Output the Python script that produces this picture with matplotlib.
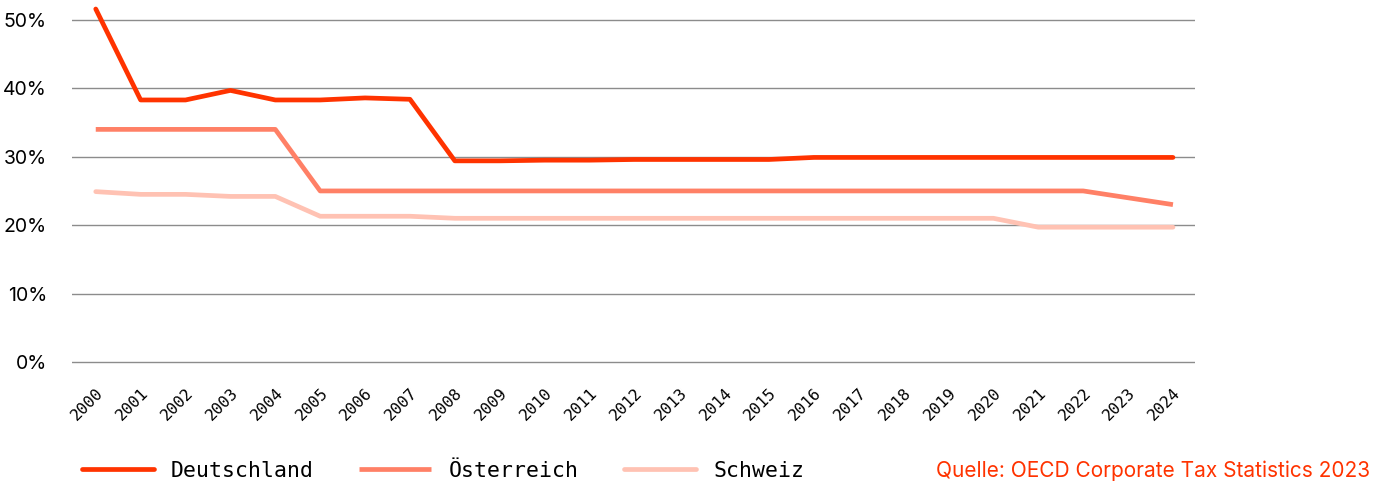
import matplotlib
matplotlib.use('Agg')
import matplotlib.pyplot as plt
from matplotlib.ticker import FuncFormatter

# Körperschaftsteuersätze (kombiniert), in Prozent
years = list(range(2000, 2025))
deutschland = [51.6, 38.3, 38.3, 39.7, 38.3, 38.3, 38.6, 38.4, 29.4, 29.4, 29.5, 29.5,
               29.6, 29.6, 29.6, 29.6, 29.9, 29.9, 29.9, 29.9, 29.9, 29.9, 29.9, 29.9, 29.9]
oesterreich = [34.0, 34.0, 34.0, 34.0, 34.0, 25.0, 25.0, 25.0, 25.0, 25.0, 25.0, 25.0,
               25.0, 25.0, 25.0, 25.0, 25.0, 25.0, 25.0, 25.0, 25.0, 25.0, 25.0, 24.0, 23.0]
schweiz = [24.9, 24.5, 24.5, 24.2, 24.2, 21.3, 21.3, 21.3, 21.0, 21.0, 21.0, 21.0,
           21.0, 21.0, 21.0, 21.0, 21.0, 21.0, 21.0, 21.0, 21.0, 19.7, 19.7, 19.7, 19.7]
y_ticks = [0, 10, 20, 30, 40, 50]

fig = plt.figure(figsize=(13.84, 4.82), dpi=100)
# axes spans y from -0.5 to 52 (percent)
ax = fig.add_axes([0.052, 0.242, 0.8114, 0.745])

ax.plot(years, schweiz, color='#FFC2B3', lw=3.4, label='Schweiz', solid_capstyle='round', zorder=3)
ax.plot(years, oesterreich, color='#FF8066', lw=3.4, label='Österreich', solid_capstyle='butt', zorder=4)
ax.plot(years, deutschland, color='#FF3300', lw=3.4, label='Deutschland', solid_capstyle='round', zorder=5)

ax.set_xlim(1999.47, 2024.49)
ax.set_ylim(-0.5, 52)
ax.set_yticks(y_ticks)
ax.yaxis.set_major_formatter(FuncFormatter(lambda v, p: f'{int(v)}%'))
ax.set_xticks(years)
ax.set_xticklabels([str(y) for y in years], rotation=45, ha='right', rotation_mode='anchor',
                   family='DejaVu Sans Mono', fontsize=11.5)
ax.grid(axis='y', color='#8c8c8c', lw=1)
ax.set_axisbelow(True)
for s in ax.spines.values():
    s.set_visible(False)
ax.tick_params(axis='both', length=0)
ax.tick_params(axis='y', labelsize=14, pad=18)
ax.tick_params(axis='x', pad=14)
for lbl in ax.get_yticklabels():
    lbl.set_family('Inter')

handles, labels = ax.get_legend_handles_labels()
order = [2, 1, 0]
fig.legend([handles[i] for i in order], [labels[i] for i in order], loc='center left',
           bbox_to_anchor=(0.045, 0.023), ncol=3, frameon=False,
           prop={'family': 'DejaVu Sans Mono', 'size': 15.5},
           handlelength=3.35, columnspacing=2.1, handletextpad=0.8)

fig.text(0.99, 0.023, 'Quelle: OECD Corporate Tax Statistics 2023', color='#FF3300',
         ha='right', va='center', fontsize=15, family='Inter')

fig.savefig('out.png', dpi=100)
